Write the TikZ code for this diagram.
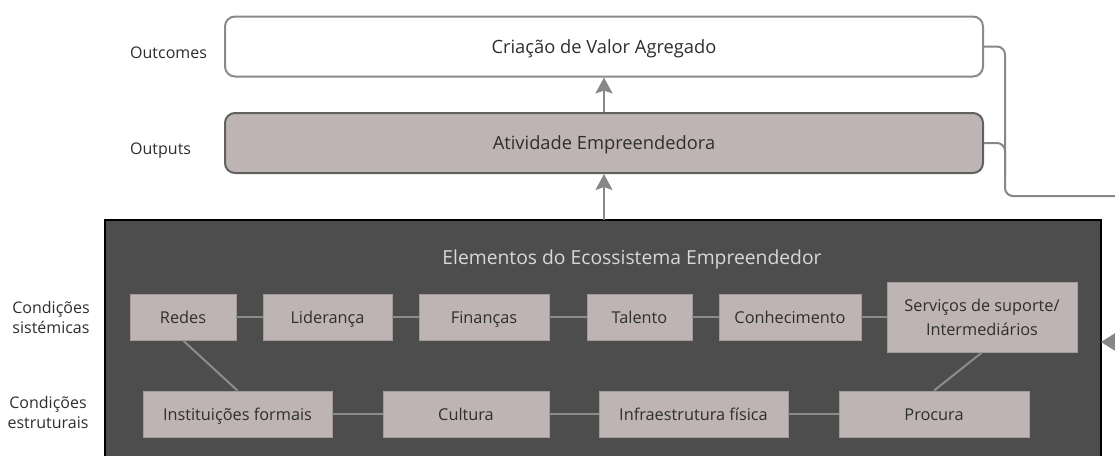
\documentclass[tikz,border=0pt]{standalone}
\usepackage{fontspec}
\setmainfont{Open Sans}
\usetikzlibrary{arrows.meta}
\definecolor{boxfill}{HTML}{BEB4B3}
\definecolor{elemborder}{HTML}{A39A99}
\definecolor{darkfill}{HTML}{4D4D4D}
\definecolor{linegray}{HTML}{878787}
\definecolor{innerline}{HTML}{8C8C8C}
\definecolor{txt}{HTML}{2E2E2E}
\definecolor{titletxt}{HTML}{D8D8D8}
\definecolor{outcomeborder}{HTML}{8A8A8A}
\definecolor{outputborder}{HTML}{606060}
\begin{document}
\begin{tikzpicture}[x=1pt,y=-1pt,
  font=\fontsize{16}{20}\selectfont,
  elem/.style={draw=elemborder, line width=0.8pt, fill=boxfill, inner sep=0pt, text=txt, align=center,
    font=\fontsize{16.3}{20.5}\selectfont, text height=12pt, text depth=-2.5pt},
  twoline/.style={font=\fontsize{16.3}{24}\selectfont, text height=36pt, text depth=-4pt},
  topbox/.style={rounded corners=10pt, line width=2pt, inner sep=0pt, text=txt, minimum width=758pt, minimum height=60pt,
    font=\fontsize{18.3}{22}\selectfont, text height=13pt, text depth=-2.6pt},
  sidelabel/.style={text=txt, align=center, inner sep=0pt},
  link/.style={draw=innerline, line width=2pt},
  conn/.style={draw=linegray, line width=2pt},
  arr/.style={draw=linegray, line width=2pt, -{Stealth[length=16pt, width=17pt, inset=3pt]}, color=linegray},
  bigarr/.style={draw=linegray, line width=2pt, -{Stealth[length=20pt, width=25pt, inset=3pt]}, color=linegray}
]
\useasboundingbox (0,0) rectangle (1115,455);
\clip (0,0) rectangle (1115,455);

% top boxes
\node[topbox, draw=outcomeborder, fill=white] (outcomes) at (604,46.5) {Criação de Valor Agregado};
\node[topbox, draw=outputborder, fill=boxfill] (outputs) at (604,143) {Atividade Empreendedora};

\node[sidelabel, anchor=base west] (lbloutc) at (130,58) {Outcomes};
\node[sidelabel, anchor=base west] (lbloutp) at (130,154) {Outputs};

% ecosystem box
\node[draw=black, line width=2.5pt, fill=darkfill, inner sep=0pt, outer sep=0pt,
      minimum width=996pt, minimum height=270pt, anchor=north west] (eco) at (105,220) {};
\node[text=titletxt, inner sep=0pt, font=\fontsize{19.3}{23}\selectfont] (title) at (632,259) {Elementos do Ecossistema Empreendedor};

% row 1
\node[elem, minimum width=106pt, minimum height=46pt] (redes) at (183,317) {Redes};
\node[elem, minimum width=129pt, minimum height=46pt] (lider) at (327.5,317) {Liderança};
\node[elem, minimum width=130pt, minimum height=46pt] (finan) at (484,317) {Finanças};
\node[elem, minimum width=105pt, minimum height=46pt] (talento) at (639.5,317) {Talento};
\node[elem, minimum width=142pt, minimum height=46pt] (conhec) at (790,317) {Conhecimento};
\node[elem, twoline, minimum width=190pt, minimum height=70pt] (servicos) at (982,317) {Serviços de suporte/\\Intermediários};

% row 2
\node[elem, minimum width=189pt, minimum height=46pt] (inst) at (237.5,414) {Instituições formais};
\node[elem, minimum width=166pt, minimum height=46pt] (cultura) at (466,414) {Cultura};
\node[elem, minimum width=189pt, minimum height=46pt] (infra) at (693.5,414) {Infraestrutura física};
\node[elem, minimum width=190pt, minimum height=46pt] (procura) at (934,414) {Procura};

% side labels
\node[sidelabel] (lblsis) at (51,317) {Condições\\sistémicas};
\node[sidelabel] (lblest) at (48,412) {Condições\\estruturais};

% links
\draw[link] (redes) -- (lider);
\draw[link] (lider) -- (finan);
\draw[link] (finan) -- (talento);
\draw[link] (talento) -- (conhec);
\draw[link] (conhec) -- (servicos);
\draw[link] (inst) -- (cultura);
\draw[link] (cultura) -- (infra);
\draw[link] (infra) -- (procura);
\draw[link] (redes.south) -- (inst.north);
\draw[link] (servicos.south) -- (procura.north);

% vertical arrows
\draw[arr] (eco.north -| outputs.south) -- (outputs.south);
\draw[arr] (outputs.north) -- (outcomes.south);

% feedback connector
\coordinate (fbout) at (1130,196);
\coordinate (fbin) at (1140,342);
\draw[conn, rounded corners=8pt] (outcomes.east) -- (1005,46.5) -- (1005,196) -- (fbout);
\draw[conn, rounded corners=8pt] (outputs.east) -- (1005,143) -- (1005,175);
\draw[bigarr] (fbin) -- (eco.east |- fbin);
\end{tikzpicture}
\end{document}
